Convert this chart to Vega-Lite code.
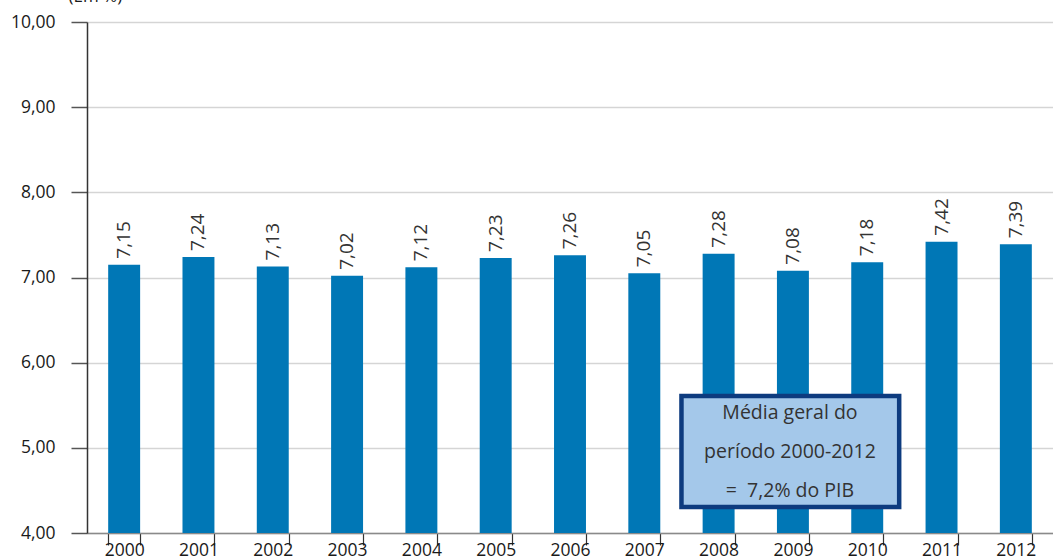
{
  "$schema": "https://vega.github.io/schema/vega-lite/v6.json",
  "autosize": {"type": "none"},
  "padding": {"left": 87, "top": 22, "right": 0, "bottom": 27},
  "width": 966,
  "height": 511,
  "background": "white",
  "config": {
    "view": {"stroke": null},
    "font": "Open Sans",
    "locale": {"number": {"decimal": ",", "thousands": ".", "grouping": [3], "currency": ["", ""]}}
  },
  "resolve": {"scale": {"x": "independent"}, "axis": {"x": "independent"}},
  "layer": [
    {
      "data": {"name": "gastos", "values": [
        {"ano": "2000", "valor": 7.15},
        {"ano": "2001", "valor": 7.24},
        {"ano": "2002", "valor": 7.13},
        {"ano": "2003", "valor": 7.02},
        {"ano": "2004", "valor": 7.12},
        {"ano": "2005", "valor": 7.23},
        {"ano": "2006", "valor": 7.26},
        {"ano": "2007", "valor": 7.05},
        {"ano": "2008", "valor": 7.28},
        {"ano": "2009", "valor": 7.08},
        {"ano": "2010", "valor": 7.18},
        {"ano": "2011", "valor": 7.42},
        {"ano": "2012", "valor": 7.39}
      ]},
      "layer": [
        {
          "mark": {"type": "bar", "color": "#0077b6"},
          "encoding": {
            "x": {
              "field": "ano", "type": "ordinal",
              "scale": {"paddingInner": 0.57, "paddingOuter": 0.285},
              "axis": {
                "title": null, "labelAngle": 0, "labelFontSize": 17.5, "labelColor": "#1a1a1a",
                "domainColor": "#8a8a8a", "domainWidth": 1.5,
                "tickColor": "#333", "tickSize": 12, "tickWidth": 1.2, "tickBand": "extent",
                "labelPadding": -4
              }
            },
            "y": {
              "field": "valor", "type": "quantitative",
              "scale": {"domain": [4, 10], "zero": false, "nice": false},
              "axis": {
                "title": "(Em %)", "titleAngle": 0, "titleFontSize": 17, "titleFontWeight": "normal",
                "titleColor": "#1a1a1a", "titleX": -19, "titleY": -21, "titleAlign": "left", "titleBaseline": "alphabetic",
                "values": [4, 5, 6, 7, 8, 9, 10], "format": ".2f",
                "labelFontSize": 17.5, "labelColor": "#1a1a1a", "labelPadding": 16,
                "domainColor": "#333", "domainWidth": 1.5,
                "tickColor": "#555", "tickSize": 16, "tickWidth": 1.5,
                "grid": true, "gridColor": "#d5d5d5", "gridWidth": 1.5
              }
            },
            "y2": {"datum": 4}
          }
        },
        {
          "mark": {"type": "text", "angle": 270, "align": "left", "baseline": "middle", "dx": 6, "fontSize": 19, "color": "#333"},
          "encoding": {
            "x": {"field": "ano", "type": "ordinal"},
            "y": {"field": "valor", "type": "quantitative"},
            "text": {"field": "valor", "type": "quantitative", "format": ".2f"}
          }
        }
      ]
    },
    {
      "data": {"values": [{}]},
      "layer": [
        {
          "mark": {"type": "rect", "fill": "#a4c8ea", "stroke": "#0d3b7f", "strokeWidth": 4.5},
          "encoding": {
            "x": {"datum": 8, "type": "quantitative", "scale": {"domain": [0, 13]}, "axis": null},
            "x2": {"datum": 10.93},
            "y": {"datum": 5.61, "type": "quantitative"},
            "y2": {"datum": 4.305}
          }
        },
        {
          "mark": {"type": "text", "align": "center", "baseline": "middle", "fontSize": 19.5, "color": "#333", "lineHeight": 39},
          "encoding": {
            "x": {"datum": 9.46, "type": "quantitative"},
            "y": {"datum": 5.41, "type": "quantitative"},
            "text": {"value": ["Média geral do", "período 2000-2012", "= \u00a07,2% do PIB"]}
          }
        }
      ]
    }
  ]
}
